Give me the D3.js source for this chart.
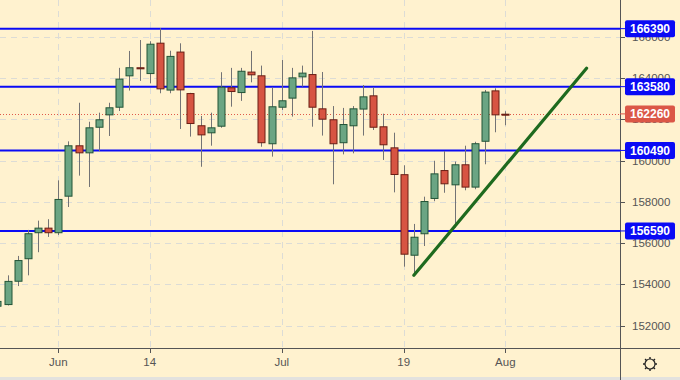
<!DOCTYPE html>
<html>
<head>
<meta charset="utf-8">
<script src="https://cdn.jsdelivr.net/npm/d3@7"></script>
<style>
html,body{margin:0;padding:0;background:#fff2cf;}
svg{display:block;}
text{font-family:"Liberation Sans","DejaVu Sans",sans-serif;}
</style>
</head>
<body>
<svg id="chart" width="680" height="380"></svg>
<script>
// ---- data ----
const dates = ["2021-05-24","2021-05-25","2021-05-26","2021-05-27","2021-05-28","2021-05-31",
 "2021-06-01","2021-06-02","2021-06-03","2021-06-04","2021-06-07","2021-06-08","2021-06-09","2021-06-10","2021-06-11",
 "2021-06-14","2021-06-15","2021-06-16","2021-06-17","2021-06-18","2021-06-21","2021-06-22","2021-06-23","2021-06-24","2021-06-25",
 "2021-06-28","2021-06-29","2021-06-30","2021-07-01","2021-07-02","2021-07-05","2021-07-06","2021-07-07","2021-07-08","2021-07-09",
 "2021-07-12","2021-07-13","2021-07-14","2021-07-15","2021-07-16","2021-07-19","2021-07-20","2021-07-21","2021-07-22","2021-07-23",
 "2021-07-26","2021-07-27","2021-07-28","2021-07-29","2021-07-30","2021-08-02"];
const opens  = [152920,153000,154130,155220,156480,156750,156480,158250,160740,160350,161590,162190,162560,164080,164520,
 164190,165710,163390,165280,163270,161710,161320,161640,163550,163270,164310,164130,160790,162560,163000,164030,164190,162530,162000,160840,
 161660,162470,163160,161660,160640,159340,155390,156430,158140,159540,158800,159820,158690,160910,163400,162270];
const highs  = [153490,154440,155380,156640,157090,157160,159040,160930,162800,161880,162320,162800,164490,165310,165840,
 165780,166410,165320,165680,163280,162160,162320,164280,164490,164490,165310,164600,163550,164870,164490,164600,166280,164290,162640,162550,
 162640,163660,163550,162270,161350,159770,156930,158250,159990,160460,159950,160720,160910,163420,163500,162390];
const lows   = [152760,152980,153920,154440,155560,156300,156390,157750,159270,158720,160460,161190,162400,163390,163860,
 163740,163260,163260,161530,161160,159700,160720,161590,162610,162890,163790,160670,160190,162450,162130,163580,161640,161210,158850,160300,
 160350,161210,161480,160030,158460,154860,154540,155860,158030,158440,156750,158560,158610,159820,161370,161710];
const closes = [153200,154170,155180,156480,156750,156480,158140,160740,160350,161610,162000,162580,163970,164520,164420,
 165660,163450,165070,163400,161770,161220,161610,163580,163320,164350,164130,160840,162630,162920,164030,164260,162560,161980,160790,161770,
 162530,163110,161590,160740,159300,155440,156310,158040,159380,158850,159820,158690,160840,163340,162190,162260];

const levels = [166390, 163580, 160490, 156590];
const lastPrice = 162260;
const yTicks = [152000,154000,156000,158000,160000,162000,164000,166000];
const xTickDates  = ["2021-06-01","2021-06-14","2021-07-01","2021-07-19","2021-08-02"];
const xTickLabels = ["Jun","14","Jul","19","Aug"];
const trendDates  = ["2021-07-20","2021-08-12"];
const trendValues = [154440, 164470];

// ---- trading-day index ----
const parse = d3.utcParse("%Y-%m-%d");
const fmt = d3.utcFormat("%Y-%m-%d");
const allDays = d3.utcDay.range(parse("2021-05-24"), parse("2021-09-01")).filter(d => d.getUTCDay() > 0 && d.getUTCDay() < 6);
const idx = new Map(allDays.map((d, i) => [fmt(d), i]));

const W = 680, H = 380, plotR = 620, plotB = 348;
const x = d3.scaleLinear().domain([0, 60]).range([-2.65, -2.65 + 60 * 10.159]);
const y = d3.scaleLinear().domain([152000, 166000]).range([325.7, 36.7]);

const svg = d3.select("#chart");
svg.append("rect").attr("width", W).attr("height", H).attr("fill", "#fff2cf");
svg.append("rect").attr("x", 0).attr("y", 377).attr("width", W).attr("height", 3).attr("fill", "#e3e2de");

svg.append("defs").append("clipPath").attr("id", "plot")
  .append("rect").attr("x", 0).attr("y", 0).attr("width", plotR).attr("height", plotB);

const grid = svg.append("g").attr("clip-path", "url(#plot)");
grid.selectAll("line.h").data(yTicks).join("line")
  .attr("x1", 0).attr("x2", plotR).attr("y1", d => Math.round(y(d)) + 0.5).attr("y2", d => Math.round(y(d)) + 0.5)
  .attr("stroke", "#dcdcd6").attr("stroke-dasharray", "6,5");
grid.selectAll("line.v").data(xTickDates).join("line")
  .attr("y1", 0).attr("y2", plotB).attr("x1", d => Math.round(x(idx.get(d))) + 0.5).attr("x2", d => Math.round(x(idx.get(d))) + 0.5)
  .attr("stroke", "#dcdcd6").attr("stroke-dasharray", "6,5");

const plot = svg.append("g").attr("clip-path", "url(#plot)");

// support / resistance levels
plot.selectAll("line.lvl").data(levels).join("line")
  .attr("x1", 0).attr("x2", plotR).attr("y1", d => y(d)).attr("y2", d => y(d))
  .attr("stroke", "#0a0af5").attr("stroke-width", 2);

// last price dotted
plot.append("line").attr("x1", 0).attr("x2", plotR).attr("y1", Math.round(y(lastPrice)) + 0.5).attr("y2", Math.round(y(lastPrice)) + 0.5)
  .attr("stroke", "#e0594a").attr("stroke-dasharray", "1,2");

// candles
const candles = dates.map((d, i) => ({ i: idx.get(d), o: opens[i], h: highs[i], l: lows[i], c: closes[i] }));
const cg = plot.selectAll("g.c").data(candles).join("g");
cg.append("line")
  .attr("x1", d => Math.round(x(d.i)) + 0.5).attr("x2", d => Math.round(x(d.i)) + 0.5)
  .attr("y1", d => y(d.h)).attr("y2", d => y(d.l))
  .attr("stroke", "#737375").attr("stroke-width", 1);
cg.append("rect")
  .attr("x", d => Math.round(x(d.i)) - 3)
  .attr("y", d => Math.min(y(d.o), y(d.c)) + 0.5)
  .attr("width", 7)
  .attr("height", d => Math.max(1, Math.abs(y(d.o) - y(d.c)) - 1))
  .attr("fill", d => d.c >= d.o ? "#6ba583" : "#d75442")
  .attr("stroke", d => d.c >= d.o ? "#225437" : "#6b1e14")
  .attr("stroke-width", 1);

// trend line
plot.append("line")
  .attr("x1", x(idx.get(trendDates[0]))).attr("y1", y(trendValues[0]))
  .attr("x2", x(idx.get(trendDates[1]))).attr("y2", y(trendValues[1]))
  .attr("stroke", "#1e6a1e").attr("stroke-width", 3.2).attr("stroke-linecap", "round");

// axes lines
svg.append("line").attr("x1", plotR + 0.5).attr("x2", plotR + 0.5).attr("y1", 0).attr("y2", H)
  .attr("stroke", "#555");
svg.append("line").attr("x1", 0).attr("x2", W).attr("y1", plotB + 0.5).attr("y2", plotB + 0.5)
  .attr("stroke", "#555");

// y axis ticks + labels
const ya = svg.append("g");
ya.selectAll("line").data(yTicks).join("line")
  .attr("x1", plotR).attr("x2", plotR + 5).attr("y1", d => Math.round(y(d)) + 0.5).attr("y2", d => Math.round(y(d)) + 0.5)
  .attr("stroke", "#555");
ya.selectAll("text").data(yTicks).join("text")
  .attr("x", 632).attr("y", d => y(d) + 4).attr("font-size", 11.5).attr("fill", "#555")
  .text(d => d);

// x axis ticks + labels
const xa = svg.append("g");
xa.selectAll("line").data(xTickDates).join("line")
  .attr("x1", d => Math.round(x(idx.get(d))) + 0.5).attr("x2", d => Math.round(x(idx.get(d))) + 0.5)
  .attr("y1", plotB).attr("y2", plotB + 5).attr("stroke", "#555");
xa.selectAll("text").data(xTickDates).join("text")
  .attr("x", d => x(idx.get(d))).attr("y", 366).attr("text-anchor", "middle")
  .attr("font-size", 11.5).attr("fill", "#555")
  .text((d, i) => xTickLabels[i]);

// price labels
const labs = levels.map(v => ({ v, col: "#0a0af5" })).concat([{ v: lastPrice, col: "#db5747" }]);
const lg = svg.selectAll("g.lab").data(labs).join("g");
lg.append("line").attr("x1", plotR).attr("x2", plotR + 6).attr("y1", d => y(d.v)).attr("y2", d => y(d.v))
  .attr("stroke", d => d.col).attr("stroke-width", 1);
lg.append("rect").attr("x", 625).attr("y", d => y(d.v) - 8.5).attr("width", 50).attr("height", 17).attr("rx", 2)
  .attr("fill", d => d.col);
lg.append("text").attr("x", 650).attr("y", d => y(d.v) + 4.5).attr("text-anchor", "middle")
  .attr("font-size", 12).attr("font-weight", "bold").attr("fill", "#fff").text(d => d.v);

// gear icon
const gear = svg.append("g").attr("transform", "translate(650,364)");
gear.append("circle").attr("r", 5).attr("fill", "none").attr("stroke", "#222").attr("stroke-width", 1.2);
gear.selectAll("line").data(d3.range(8)).join("line")
  .attr("x1", d => 5 * Math.cos(d * Math.PI / 4)).attr("y1", d => 5 * Math.sin(d * Math.PI / 4))
  .attr("x2", d => 7 * Math.cos(d * Math.PI / 4)).attr("y2", d => 7 * Math.sin(d * Math.PI / 4))
  .attr("stroke", "#222").attr("stroke-width", 1.4);
</script>
</body>
</html>
